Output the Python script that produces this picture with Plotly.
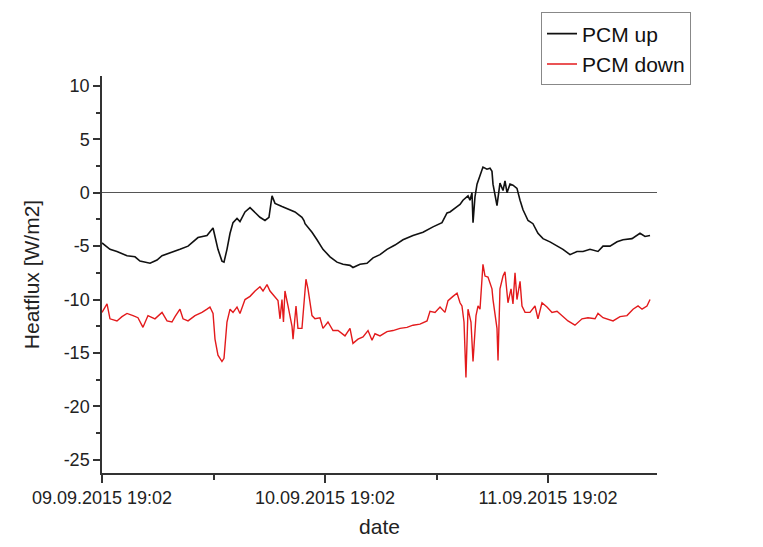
import pandas as pd
import plotly.graph_objects as go

START = pd.Timestamp("2015-09-09 19:02")

# PCM up (black): hours since start, heat flux W/m2
up_hours = [0.0, 0.86, 1.61, 2.69, 3.55, 4.09, 5.17, 5.92, 6.46, 7.32, 8.39, 9.26,
            10.33, 11.30, 11.95, 12.16, 12.48, 12.91, 13.13, 13.45, 13.78, 14.10,
            14.53, 14.85, 15.39, 15.93, 16.47, 17.00, 17.54, 17.97, 18.30, 18.62,
            19.37, 20.02, 20.77, 21.52, 21.74, 21.85, 22.60, 23.14, 23.78, 24.54,
            25.29, 25.94, 26.69, 27.01, 27.77, 28.52, 29.17, 29.92, 30.67, 31.53,
            32.39, 33.47, 34.55, 35.62, 36.59, 37.13, 37.45, 38.21, 38.53, 38.85,
            39.39, 39.60, 39.82, 39.93, 40.14, 40.36, 40.68, 41.00, 41.43, 41.76,
            41.97, 42.08, 42.51, 42.83, 43.16, 43.37, 43.59, 43.91, 44.23, 44.66,
            44.99, 45.31, 45.85, 46.38, 46.92, 47.46, 48.21, 48.97, 49.61, 50.37,
            51.12, 51.77, 52.52, 53.38, 53.92, 54.67, 55.43, 56.07, 57.04, 57.90,
            58.44, 58.98]
up_values = [-4.7, -5.3, -5.5, -5.9, -6.0, -6.4, -6.6, -6.3, -5.9, -5.6, -5.3, -5.0,
             -4.2, -4.0, -3.3, -4.1, -5.3, -6.4, -6.5, -5.3, -3.8, -2.8,
             -2.4, -2.7, -1.8, -1.4, -1.9, -2.3, -2.6, -2.3, -0.3, -1.0,
             -1.3, -1.5, -1.8, -2.3, -2.6, -2.9, -3.7, -4.4, -5.3, -6.0,
             -6.5, -6.7, -6.8, -7.0, -6.7, -6.6, -6.1, -5.8, -5.3, -4.9,
             -4.4, -4.0, -3.7, -3.2, -2.8, -1.9, -1.8, -1.3, -1.1, -0.7,
             -0.3, -0.7, 0.0, -2.8, -0.4, 0.8, 1.6, 2.4, 2.2, 2.3,
             2.0, 0.8, -1.2, 0.9, 0.2, 1.1, 0.0, 0.8, 0.7, 0.4,
             -0.7, -1.6, -2.6, -2.9, -3.8, -4.3, -4.6, -5.0, -5.3, -5.8,
             -5.5, -5.5, -5.3, -5.5, -5.0, -5.0, -4.6, -4.4, -4.3, -3.8,
             -4.1, -4.0]

# PCM down (red)
down_hours = [0.0, 0.54, 0.86, 1.61, 2.15, 2.69, 3.34, 3.87, 4.41, 4.95, 5.70, 6.46,
              7.00, 7.53, 7.86, 8.39, 8.72, 9.26, 10.01, 10.76, 11.30, 11.62, 11.95,
              12.16, 12.48, 12.91, 13.13, 13.45, 13.78, 14.10, 14.53, 14.85, 15.39,
              15.93, 16.47, 17.00, 17.33, 17.76, 18.08, 18.62, 18.94, 19.16, 19.37,
              19.53, 19.69, 20.02, 20.45, 20.56, 20.88, 21.09, 21.52, 21.95, 22.17,
              22.60, 22.92, 23.46, 23.78, 24.32, 24.86, 25.40, 26.15, 26.69, 27.01,
              27.55, 28.09, 28.63, 29.06, 29.38, 29.92, 30.67, 31.32, 32.07, 32.82,
              33.47, 34.22, 34.98, 35.30, 35.84, 36.38, 36.91, 37.24, 37.77, 38.21,
              38.53, 38.74, 38.96, 39.17, 39.39, 39.71, 39.93, 40.25, 40.47, 40.68,
              41.00, 41.22, 41.54, 41.97, 42.08, 42.51, 42.62, 42.83, 43.16, 43.37,
              43.69, 44.02, 44.23, 44.45, 44.66, 44.99, 45.20, 45.53, 46.06, 46.60,
              46.92, 47.35, 47.89, 48.43, 48.97, 49.50, 50.15, 50.90, 51.66, 52.30,
              53.06, 53.38, 53.92, 55.00, 55.75, 56.50, 57.15, 57.69, 58.12, 58.65,
              58.98]
down_values = [-11.2, -10.4, -11.8, -12.0, -11.6, -11.3, -11.5, -11.7, -12.6, -11.5, -11.8, -11.2,
               -12.0, -12.1, -11.6, -10.9, -11.8, -12.0, -11.5, -11.2, -10.9, -10.7, -11.3,
               -13.7, -15.2, -15.8, -15.5, -12.1, -10.9, -11.2, -10.7, -11.3, -10.0,
               -9.7, -9.2, -8.8, -9.2, -8.6, -9.2, -9.8, -10.1, -11.8, -10.0,
               -12.1, -9.2, -10.6, -12.5, -13.7, -10.6, -12.7, -12.7, -8.1, -9.0,
               -11.5, -11.8, -11.7, -12.7, -12.1, -12.9, -12.9, -13.4, -12.7, -14.1,
               -13.7, -13.5, -12.9, -13.8, -13.2, -13.4, -13.0, -12.9, -12.7, -12.6,
               -12.4, -12.3, -12.0, -11.1, -11.2, -10.7, -11.2, -10.1, -9.7, -9.4,
               -10.3, -10.6, -12.1, -17.3, -10.9, -12.1, -15.8, -11.5, -10.6, -10.9,
               -6.7, -7.8, -7.9, -9.0, -10.0, -12.7, -15.7, -9.0, -7.8, -7.4,
               -10.3, -9.0, -10.4, -7.5, -10.0, -8.3, -10.6, -11.2, -11.2, -10.6,
               -11.8, -10.3, -10.7, -11.2, -11.1, -11.5, -12.0, -12.4, -11.8, -11.7,
               -11.8, -11.3, -11.7, -12.0, -11.6, -11.5, -10.9, -10.6, -10.9, -10.6,
               -10.0]

tick_days = [0, 1, 2]
tick_labels = ["09.09.2015 19:02", "10.09.2015 19:02", "11.09.2015 19:02"]
y_tick_values = [10, 5, 0, -5, -10, -15, -20, -25]
y_tick_labels = ["10", "5", "0", "-5", "-10", "-15", "-20", "-25"]

up_x = [START + pd.Timedelta(hours=h) for h in up_hours]
down_x = [START + pd.Timedelta(hours=h) for h in down_hours]
tick_x = [START + pd.Timedelta(days=d) for d in tick_days]

FONT = "Liberation Sans, Arial, sans-serif"

fig = go.Figure()
fig.add_trace(go.Scatter(x=up_x, y=up_values, mode="lines", name="PCM up",
                         line=dict(color="#111111", width=1.6)))
fig.add_trace(go.Scatter(x=down_x, y=down_values, mode="lines", name="PCM down",
                         line=dict(color="#e31a1c", width=1.4)))

fig.update_layout(
    width=763, height=547,
    margin=dict(l=102, r=106, t=74, b=71),
    paper_bgcolor="white", plot_bgcolor="white",
    font=dict(family=FONT, size=18, color="#222222"),
    showlegend=True,
    legend=dict(x=0.791, y=1.16, xanchor="left", yanchor="top",
                bordercolor="#888888", borderwidth=1, bgcolor="white",
                font=dict(size=21, color="#111111"), tracegroupgap=0,
                entrywidth=160, entrywidthmode="pixels"),
)
fig.update_xaxes(
    type="date",
    range=[START, START + pd.Timedelta(hours=59.73)],
    tickmode="array", tickvals=tick_x, ticktext=tick_labels,
    ticks="outside", ticklen=8, tickwidth=1.5, tickcolor="#333333",
    minor=dict(dtick=12 * 3600 * 1000, tick0=START, ticks="outside", ticklen=5,
               tickwidth=1.5, tickcolor="#333333", showgrid=False),
    showline=True, linecolor="#333333", linewidth=1.5,
    showgrid=False, zeroline=False,
    title=dict(text="date", font=dict(size=21), standoff=12),
)
fig.update_yaxes(
    range=[-26.23, 10.92],
    tickmode="array", tickvals=y_tick_values, ticktext=y_tick_labels,
    ticks="outside", ticklen=7, tickwidth=1.5, tickcolor="#333333",
    minor=dict(dtick=2.5, tick0=0, ticks="outside", ticklen=4, tickwidth=1.5,
               tickcolor="#333333", showgrid=False),
    showline=True, linecolor="#333333", linewidth=1.5,
    showgrid=False,
    zeroline=True, zerolinecolor="#555555", zerolinewidth=1,
    title=dict(text="Heatflux [W/m2]", font=dict(size=21), standoff=18),
)

fig.write_html("out.html")
